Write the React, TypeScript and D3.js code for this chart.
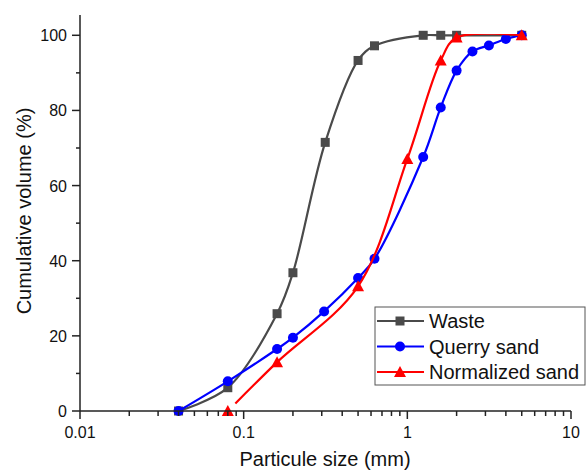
import React from "react";
import * as d3 from "d3";

const WIDTH = 587;
const HEIGHT = 472;
const MARGIN = { top: 15, right: 16, bottom: 61, left: 80 };

const FONT = "'Liberation Sans', Arial, sans-serif";

const wasteSize = [0.04, 0.08, 0.16, 0.2, 0.315, 0.5, 0.63, 1.25, 1.6, 2, 5];
const wasteVol = [0, 6.2, 25.9, 36.8, 71.5, 93.3, 97.2, 100, 100, 100, 100];

const querrySize = [0.04, 0.08, 0.16, 0.2, 0.31, 0.5, 0.63, 1.25, 1.6, 2, 2.5, 3.15, 4, 5];
const querryVol = [0, 7.9, 16.5, 19.5, 26.5, 35.4, 40.5, 67.6, 80.8, 90.6, 95.7, 97.3, 99, 100];

const normSize = [0.08, 0.16, 0.5, 1, 1.6, 2, 5];
const normVol = [0, 13, 33.2, 67.1, 93.3, 99.4, 100];

const xTicks = [0.01, 0.1, 1, 10];
const xTickLabels = ["0.01", "0.1", "1", "10"];
const yTicks = [0, 20, 40, 60, 80, 100];

const seriesNames = ["Waste", "Querry sand", "Normalized sand"];
const seriesColors = ["#4a4a4a", "#0000ff", "#ff0000"];
const seriesSymbols = ["square", "circle", "triangle"];

const Marker = ({ kind, x, y, color }: { kind: string; x: number; y: number; color: string }) => {
  if (kind === "square") return <rect x={x - 4.5} y={y - 4.5} width={9} height={9} fill={color} />;
  if (kind === "circle") return <circle cx={x} cy={y} r={5} fill={color} />;
  return <path d={`M${x},${y - 6} L${x + 6},${y + 5} L${x - 6},${y + 5} Z`} fill={color} />;
};

export default function App() {
  const innerW = WIDTH - MARGIN.left - MARGIN.right;
  const innerH = HEIGHT - MARGIN.top - MARGIN.bottom;

  const x = d3.scaleLog().domain([0.01, 10]).range([MARGIN.left, MARGIN.left + innerW]);
  const y = d3.scaleLinear().domain([0, 105.4]).range([MARGIN.top + innerH, MARGIN.top]);

  const series = [
    { xs: wasteSize, ys: wasteVol },
    { xs: querrySize, ys: querryVol },
    { xs: normSize, ys: normVol },
  ];

  const line = d3
    .line<[number, number]>()
    .x((d) => x(d[0]))
    .y((d) => y(d[1]))
    .curve(d3.curveCatmullRom.alpha(0.5));

  const minorX: number[] = [];
  [0.01, 0.1, 1].forEach((dec) => {
    for (let k = 2; k <= 9; k++) minorX.push(dec * k);
  });
  const minorY = [10, 30, 50, 70, 90];

  const axisY = y(0);
  const legX = 375;
  const legY = 307;
  // keep the smoothed lines from poking above the 100 % plateau
  const capY = y(100) - 1.2;

  return (
    <svg
      width={WIDTH}
      height={HEIGHT}
      style={{ position: "absolute", left: 0, top: 0, background: "#fff" }}
      fontFamily={FONT}
    >
      <defs>
        <clipPath id="cap">
          <rect x={0} y={capY} width={WIDTH} height={HEIGHT - capY} />
        </clipPath>
      </defs>
      {series.map((s, i) => {
        const pts = s.xs.map((v, j) => [v, s.ys[j]] as [number, number]);
        return (
          <g key={i}>
            <path
              d={line(pts) || ""}
              fill="none"
              stroke={seriesColors[i]}
              strokeWidth={2.2}
              clipPath="url(#cap)"
              strokeDasharray={i === 2 ? "0 11 10000" : undefined}
            />
            {pts.map((p, j) => (
              <Marker key={j} kind={seriesSymbols[i]} x={x(p[0])} y={y(p[1])} color={seriesColors[i]} />
            ))}
          </g>
        );
      })}

      {/* axes */}
      <line x1={MARGIN.left} x2={MARGIN.left} y1={MARGIN.top} y2={axisY} stroke="#222" strokeWidth={1.5} />
      <line x1={MARGIN.left} x2={MARGIN.left + innerW} y1={axisY} y2={axisY} stroke="#222" strokeWidth={1.5} />

      {xTicks.map((t, i) => (
        <g key={t}>
          <line x1={x(t)} x2={x(t)} y1={axisY} y2={axisY + 8} stroke="#222" strokeWidth={1.5} />
          <text x={x(t)} y={axisY + 27} textAnchor="middle" fontSize={16} fill="#111">
            {xTickLabels[i]}
          </text>
        </g>
      ))}
      {minorX.map((t) => (
        <line key={t} x1={x(t)} x2={x(t)} y1={axisY} y2={axisY + 5} stroke="#222" strokeWidth={1.5} />
      ))}

      {yTicks.map((t) => (
        <g key={t}>
          <line x1={MARGIN.left - 8} x2={MARGIN.left} y1={y(t)} y2={y(t)} stroke="#222" strokeWidth={1.5} />
          <text x={MARGIN.left - 13} y={y(t) + 6} textAnchor="end" fontSize={16} fill="#111">
            {t}
          </text>
        </g>
      ))}
      {minorY.map((t) => (
        <line key={t} x1={MARGIN.left - 4} x2={MARGIN.left} y1={y(t)} y2={y(t)} stroke="#222" strokeWidth={1.5} />
      ))}

      <text x={325} y={466} textAnchor="middle" fontSize={20} fill="#111">
        Particule size (mm)
      </text>
      <text
        transform={`translate(31,211) rotate(-90)`}
        textAnchor="middle"
        fontSize={20}
        fill="#111"
      >
        Cumulative volume (%)
      </text>

      {/* legend */}
      <rect x={legX} y={legY} width={210} height={78} fill="#fff" stroke="#555" strokeWidth={1} />
      {seriesNames.map((name, i) => {
        const cy = legY + 14 + i * 25.5;
        return (
          <g key={name}>
            <line x1={legX + 2} x2={legX + 49} y1={cy} y2={cy} stroke={seriesColors[i]} strokeWidth={2.2} />
            <Marker kind={seriesSymbols[i]} x={legX + 25} y={cy} color={seriesColors[i]} />
            <text x={legX + 54} y={cy + 7} fontSize={20} fill="#111">
              {name}
            </text>
          </g>
        );
      })}
    </svg>
  );
}
